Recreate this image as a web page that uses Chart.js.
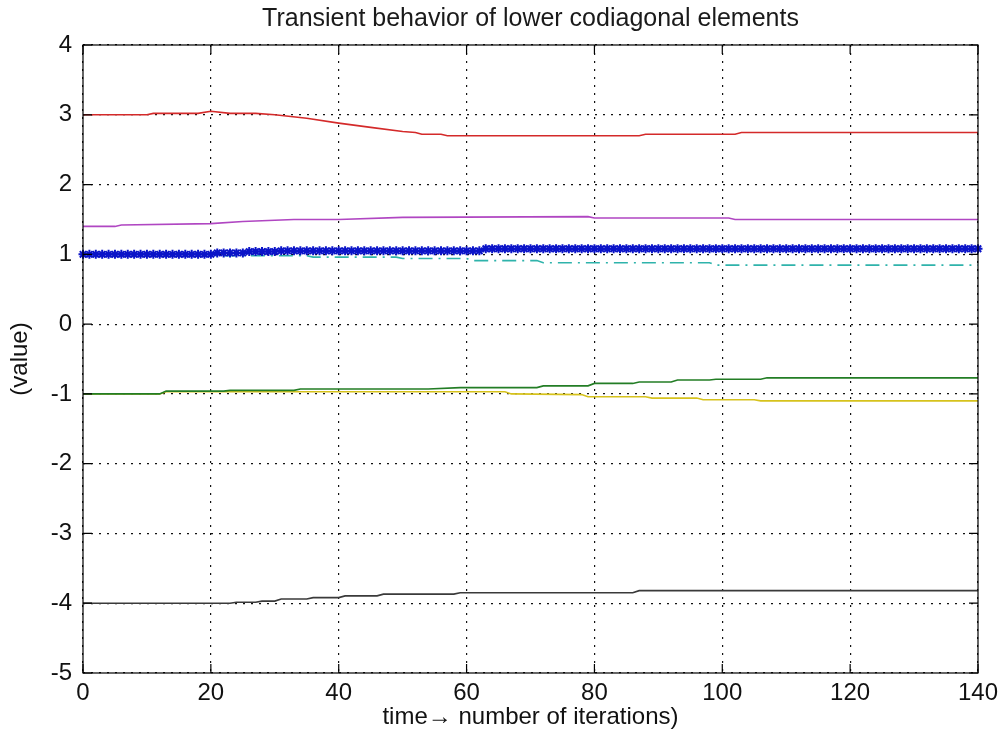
<!DOCTYPE html>
<html><head><meta charset="utf-8">
<script src="https://cdn.jsdelivr.net/npm/chart.js@4.4.1/dist/chart.umd.min.js"></script>
<style>html,body{margin:0;padding:0;background:#fff;} #wrap{width:1006px;height:742px;}</style>
</head><body><div id="wrap"><canvas id="c" width="1006" height="742"></canvas></div>
<script>
const titleText = 'Transient behavior of lower codiagonal elements';
const xLabel = 'time\u2192 number of iterations)';
const yLabel = '(value)';
const xTicks = [0, 20, 40, 60, 80, 100, 120, 140];
const yTicks = [-5, -4, -3, -2, -1, 0, 1, 2, 3, 4];

const redX = [0, 10, 11, 18, 20, 23, 27, 30, 35, 40, 45, 50, 52, 53, 56, 57, 87, 88, 102, 103, 140];
const redY = [3.0, 3.0, 3.02, 3.02, 3.05, 3.02, 3.02, 3.0, 2.95, 2.88, 2.82, 2.76, 2.745, 2.72, 2.72, 2.70, 2.70, 2.72, 2.72, 2.745, 2.745];

const magentaX = [0, 5, 6, 20, 25, 33, 40, 50, 79, 80, 101, 102, 140];
const magentaY = [1.40, 1.40, 1.42, 1.44, 1.47, 1.50, 1.50, 1.53, 1.54, 1.52, 1.52, 1.50, 1.50];

const cyanX = [0, 20, 21, 35, 36, 49, 50, 60, 61, 71, 72, 98, 99, 140];
const cyanY = [1.0, 1.0, 0.98, 0.98, 0.96, 0.96, 0.94, 0.94, 0.91, 0.91, 0.88, 0.88, 0.845, 0.845];

const greenX = [0, 12, 13, 22, 23, 33, 34, 54, 59, 71, 72, 79, 80, 86, 87, 92, 93, 98, 99, 106, 107, 140];
const greenY = [-1.0, -1.0, -0.96, -0.96, -0.95, -0.95, -0.93, -0.93, -0.91, -0.91, -0.885, -0.885, -0.85, -0.85, -0.83, -0.83, -0.80, -0.80, -0.79, -0.79, -0.77, -0.77];

const yellowX = [0, 12, 13, 66, 67, 78, 79, 88, 89, 96, 97, 105, 106, 140];
const yellowY = [-1.0, -1.0, -0.97, -0.97, -1.0, -1.01, -1.04, -1.04, -1.06, -1.06, -1.085, -1.085, -1.10, -1.10];

const blackX = [0, 23, 24, 27, 28, 30, 31, 35, 36, 40, 41, 46, 47, 58, 59, 86, 87, 140];
const blackY = [-4.0, -4.0, -3.985, -3.985, -3.97, -3.97, -3.94, -3.94, -3.92, -3.92, -3.895, -3.895, -3.87, -3.87, -3.85, -3.85, -3.82, -3.82];

// blue: one value per iteration 0..140
const blueY = [
  1.00, 1.00, 1.00, 1.00, 1.00, 1.00, 1.00, 1.00, 1.00, 1.00,
  1.00, 1.00, 1.00, 1.00, 1.00, 1.00, 1.00, 1.00, 1.00, 1.00,
  1.00, 1.02, 1.02, 1.02, 1.02, 1.02, 1.04, 1.04, 1.04, 1.04,
  1.04, 1.05, 1.05, 1.05, 1.05, 1.05, 1.05, 1.05, 1.05, 1.05,
  1.05, 1.05, 1.05, 1.05, 1.05, 1.05, 1.05, 1.05, 1.05, 1.05,
  1.05, 1.05, 1.05, 1.05, 1.05, 1.05, 1.05, 1.05, 1.05, 1.05,
  1.05, 1.05, 1.05, 1.08, 1.08, 1.08, 1.08, 1.08, 1.08, 1.08,
  1.08, 1.08, 1.08, 1.08, 1.08, 1.08, 1.08, 1.08, 1.08, 1.08,
  1.08, 1.08, 1.08, 1.08, 1.08, 1.08, 1.08, 1.08, 1.08, 1.08,
  1.08, 1.08, 1.08, 1.08, 1.08, 1.08, 1.08, 1.08, 1.08, 1.08,
  1.08, 1.08, 1.08, 1.08, 1.08, 1.08, 1.08, 1.08, 1.08, 1.08,
  1.08, 1.08, 1.08, 1.08, 1.08, 1.08, 1.08, 1.08, 1.08, 1.08,
  1.08, 1.08, 1.08, 1.08, 1.08, 1.08, 1.08, 1.08, 1.08, 1.08,
  1.08, 1.08, 1.08, 1.08, 1.08, 1.08, 1.08, 1.08, 1.08, 1.08,
  1.08
];

const pts = (xs, ys) => xs.map((x, i) => ({x: x, y: ys[i]}));
const FONT = '"Liberation Sans", Arial, sans-serif';

const frame = {
  id: 'frame',
  afterDatasetsDraw(chart) {
    const {ctx, chartArea: a, scales: {x, y}} = chart;
    ctx.save();
    ctx.strokeStyle = '#000';
    ctx.lineWidth = 1.2;
    ctx.setLineDash([]);
    ctx.strokeRect(a.left, a.top, a.right - a.left, a.bottom - a.top);
    const L = 9;
    ctx.beginPath();
    xTicks.forEach(v => {
      const p = x.getPixelForValue(v);
      ctx.moveTo(p, a.bottom); ctx.lineTo(p, a.bottom - L);
      ctx.moveTo(p, a.top); ctx.lineTo(p, a.top + L);
    });
    yTicks.forEach(v => {
      const p = y.getPixelForValue(v);
      ctx.moveTo(a.left, p); ctx.lineTo(a.left + L, p);
      ctx.moveTo(a.right, p); ctx.lineTo(a.right - L, p);
    });
    ctx.stroke();
    ctx.restore();
  }
};

const lineDs = (label, data, color, extra) => Object.assign({
  label: label, data: data, borderColor: color, backgroundColor: color,
  borderWidth: 1.6, pointRadius: 0, tension: 0, fill: false
}, extra || {});

new Chart(document.getElementById('c'), {
  type: 'line',
  data: {
    datasets: [
      lineDs('blue', blueY.map((v, i) => ({x: i, y: v})), '#0a12e6', {
        pointRadius: 4.5, pointStyle: 'star', pointBorderWidth: 2,
        pointBorderColor: '#0b14c8', pointBackgroundColor: '#0b14c8', clip: 8
      }),
      lineDs('cyan', pts(cyanX, cyanY), '#2fb3ab', {borderDash: [14, 6, 2, 6]}),
      lineDs('red', pts(redX, redY), '#d42a2a'),
      lineDs('magenta', pts(magentaX, magentaY), '#b046c2'),
      lineDs('green', pts(greenX, greenY), '#237d25'),
      lineDs('yellow', pts(yellowX, yellowY), '#d6c21c'),
      lineDs('black', pts(blackX, blackY), '#3a3a3a')
    ]
  },
  options: {
    responsive: false,
    animation: false,
    devicePixelRatio: 1,
    layout: {padding: {left: 0, right: 28, top: 0, bottom: 0}},
    plugins: {
      legend: {display: false},
      tooltip: {enabled: false},
      title: {
        display: true, text: titleText, color: '#1a1a1a', fullSize: false,
        font: {family: FONT, size: 25, weight: 'normal'},
        padding: {top: 4, bottom: 11}
      }
    },
    scales: {
      x: {
        type: 'linear', min: 0, max: 140,
        afterBuildTicks: s => { s.ticks = xTicks.map(v => ({value: v})); },
        afterFit: s => { s.height = 69; },
        grid: {color: '#111', lineWidth: 1.2, drawTicks: false},
        border: {display: false, dash: [2, 6]},
        ticks: {color: '#111', padding: 6, font: {family: FONT, size: 24}, maxRotation: 0},
        title: {display: true, text: xLabel, color: '#111',
          font: {family: FONT, size: 24}, padding: {top: 0, bottom: 10}}
      },
      y: {
        type: 'linear', min: -5, max: 4,
        afterBuildTicks: s => { s.ticks = yTicks.map(v => ({value: v})); },
        afterFit: s => { s.width = 83; },
        grid: {color: '#111', lineWidth: 1.2, drawTicks: false},
        border: {display: false, dash: [2, 6]},
        ticks: {color: '#111', padding: 11, font: {family: FONT, size: 24}},
        title: {display: true, text: yLabel, color: '#111',
          font: {family: FONT, size: 24}, padding: {top: 6, bottom: 0}}
      }
    }
  },
  plugins: [frame]
});
</script>
</body></html>
